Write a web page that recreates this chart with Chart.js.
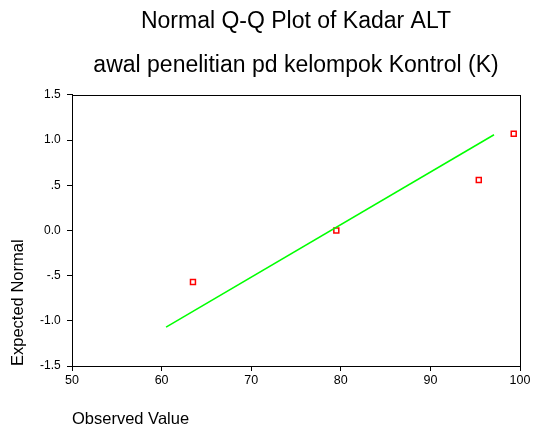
<!DOCTYPE html>
<html>
<head>
<meta charset="UTF-8" />
<title>Normal Q-Q Plot</title>
<script src="https://cdn.jsdelivr.net/npm/chart.js"></script>
<style>
  html, body { margin: 0; padding: 0; background: #fff; }
  #wrap { width: 536px; height: 429px; }
</style>
</head>
<body>
<div id="wrap"><canvas id="qq"></canvas></div>
<script>
  // data
  const observed = [63.5, 79.5, 95.4, 99.3];
  const expected = [-0.57, 0.0, 0.56, 1.07];
  const refLineX = [60.5, 97.1];
  const refLineY = [-1.07, 1.06];
  const yTickLabels = { '1.5': '1.5', '1': '1.0', '0.5': '.5', '0': '0.0', '-0.5': '-.5', '-1': '-1.0', '-1.5': '-1.5' };

  const FONT = '"Liberation Sans", Arial, sans-serif';

  // box around the plot area
  const frame = {
    id: 'frame',
    afterDraw(chart) {
      const a = chart.chartArea, c = chart.ctx;
      c.save();
      c.strokeStyle = '#000';
      c.lineWidth = 1;
      c.strokeRect(a.left + 0.5, a.top + 0.5, a.right - a.left, a.bottom - a.top);
      c.restore();
    }
  };

  new Chart(document.getElementById('qq'), {
    type: 'scatter',
    data: {
      datasets: [
        {
          type: 'line',
          data: refLineX.map((x, i) => ({ x: x, y: refLineY[i] })),
          borderColor: '#00ff00',
          borderWidth: 1.5,
          pointRadius: 0,
          fill: false
        },
        {
          data: observed.map((x, i) => ({ x: x, y: expected[i] })),
          pointStyle: 'rect',
          pointRadius: 3.5,
          pointBorderWidth: 1.5,
          pointBorderColor: '#ff0000',
          pointBackgroundColor: '#ffffff'
        }
      ]
    },
    options: {
      responsive: true,
      maintainAspectRatio: false,
      animation: false,
      // left padding centres the title over the plot area
      layout: { padding: { top: 0, right: 0, bottom: 0, left: 56 } },
      plugins: {
        legend: { display: false },
        tooltip: { enabled: false },
        title: {
          display: true,
          text: ['Normal Q-Q Plot of Kadar ALT', 'awal penelitian pd kelompok Kontrol (K)'],
          color: '#000',
          font: { family: FONT, size: 23, weight: 'normal', lineHeight: 1.913 },
          padding: { top: 0, bottom: 7 }
        }
      },
      scales: {
        x: {
          type: 'linear',
          min: 50, max: 100,
          afterFit: s => { s.height = 63; },
          border: { color: '#000', width: 1 },
          grid: { drawOnChartArea: false, color: '#000', tickLength: 5 },
          ticks: { stepSize: 10, color: '#000', padding: 2, maxRotation: 0, font: { family: FONT, size: 12.5 } },
          title: {
            display: true, text: 'Observed Value', align: 'start', color: '#000',
            font: { family: FONT, size: 16.5 }, padding: { top: 0, bottom: 0 }
          }
        },
        y: {
          type: 'linear',
          min: -1.5, max: 1.5,
          afterFit: s => { s.width = 16; },
          border: { color: '#000', width: 1 },
          grid: { drawOnChartArea: false, color: '#000', tickLength: 5 },
          // mirrored + far-aligned so the labels are not clipped to the narrow axis box
          ticks: {
            mirror: true, crossAlign: 'far', padding: -32,
            stepSize: 0.5, color: '#000', font: { family: FONT, size: 12 },
            callback: v => yTickLabels[String(v)] ?? v
          },
          title: {
            display: true, text: 'Expected Normal', align: 'start', color: '#000',
            font: { family: FONT, size: 16.5 }, padding: { top: -47, bottom: 0 }
          }
        },
        yRight: {
          type: 'linear',
          position: 'right',
          display: true,
          afterFit: s => { s.width = 16; },
          border: { display: false },
          grid: { display: false },
          ticks: { display: false }
        }
      }
    },
    plugins: [frame]
  });
</script>
</body>
</html>
